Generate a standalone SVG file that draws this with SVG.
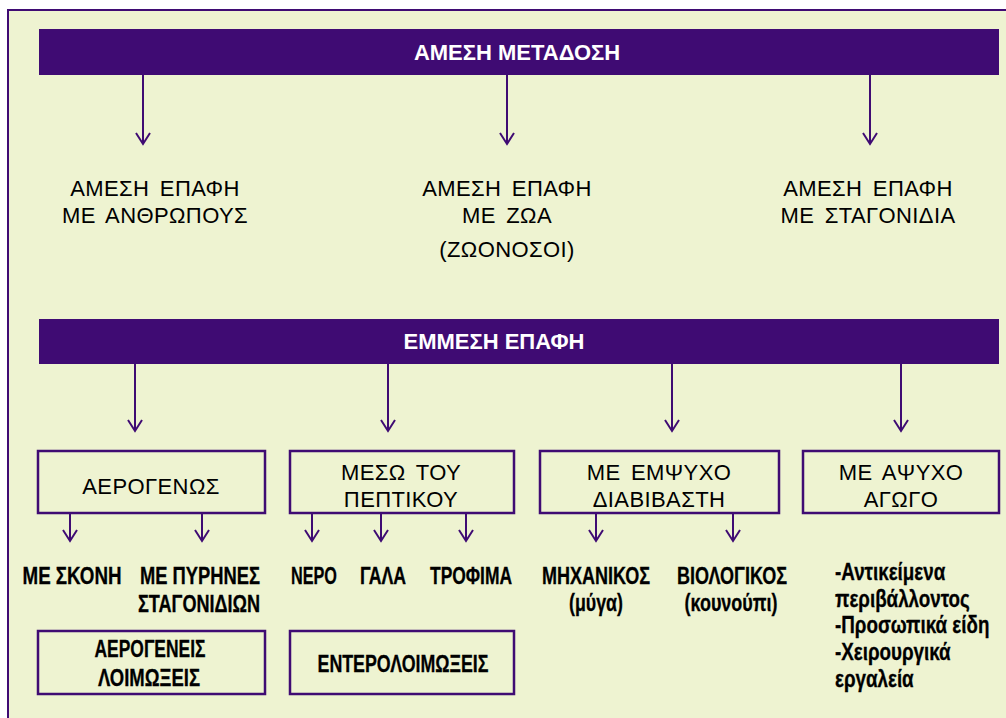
<svg xmlns="http://www.w3.org/2000/svg" width="1006" height="718" viewBox="0 0 1006 718">
<defs>
<style>
.frame{fill:#EEF3D1;stroke:#3F0B73;stroke-width:2}
.bar{fill:#3F0B73}
.box{fill:#EEF3D1;stroke:#3F0B73;stroke-width:2.5}
.bt{font-family:"Liberation Sans",Arial,sans-serif;font-weight:bold;font-size:22px;fill:#FFFFFF;text-anchor:middle}
.rt{font-family:"Liberation Sans",Arial,sans-serif;font-size:22px;fill:#000;text-anchor:middle;word-spacing:4px;letter-spacing:0.4px}
.nt{font-family:"Liberation Sans",Arial,sans-serif;font-weight:bold;font-size:23.5px;fill:#000;stroke:#000;stroke-width:0.3;text-anchor:middle}
.nl{font-family:"Liberation Sans",Arial,sans-serif;font-weight:bold;font-size:23.5px;fill:#000;stroke:#000;stroke-width:0.3}
.conn line{stroke:#3F0B73;stroke-width:2;fill:none}
</style>
<marker id="arr" markerUnits="userSpaceOnUse" markerWidth="16" markerHeight="18" viewBox="0 0 16 18" refX="12" refY="8" orient="auto">
<path d="M1,1 L12,8 L1,15" fill="none" stroke="#3F0B73" stroke-width="2"/>
</marker>
</defs>
<rect x="0" y="0" width="1006" height="718" fill="#FFFFFF"/>
<rect class="frame" x="8" y="10" width="1010" height="720"/>

<g id="amesi-metadosi">
<rect class="bar" x="39" y="29" width="960" height="46"/>
<text class="bt" x="517" y="60">ΑΜΕΣΗ ΜΕΤΑΔΟΣΗ</text>
</g>
<g id="epafi-anthropous">
<text class="rt" x="155" y="196">ΑΜΕΣΗ ΕΠΑΦΗ</text>
<text class="rt" x="155" y="223">ΜΕ ΑΝΘΡΩΠΟΥΣ</text>
</g>
<g id="epafi-zoa">
<text class="rt" x="507" y="196">ΑΜΕΣΗ ΕΠΑΦΗ</text>
<text class="rt" x="507" y="223">ΜΕ ΖΩΑ</text>
<text class="rt" x="507" y="257">(ΖΩΟΝΟΣΟΙ)</text>
</g>
<g id="epafi-stagonidia">
<text class="rt" x="868" y="196">ΑΜΕΣΗ ΕΠΑΦΗ</text>
<text class="rt" x="868" y="223">ΜΕ ΣΤΑΓΟΝΙΔΙΑ</text>
</g>

<g id="emmesi-epafi">
<rect class="bar" x="39" y="319" width="960" height="45"/>
<text class="bt" x="494" y="349">ΕΜΜΕΣΗ ΕΠΑΦΗ</text>
</g>
<g id="aerogenos">
<rect class="box" x="38" y="451" width="227" height="62"/>
<text class="rt" x="151" y="494">ΑΕΡΟΓΕΝΩΣ</text>
</g>
<g id="peptikou">
<rect class="box" x="290" y="451" width="224" height="62"/>
<text class="rt" x="401" y="480">ΜΕΣΩ ΤΟΥ</text>
<text class="rt" x="401" y="507">ΠΕΠΤΙΚΟΥ</text>
</g>
<g id="empsyxo">
<rect class="box" x="540" y="451" width="239" height="62"/>
<text class="rt" x="659" y="480">ΜΕ ΕΜΨΥΧΟ</text>
<text class="rt" x="659" y="507">ΔΙΑΒΙΒΑΣΤΗ</text>
</g>
<g id="apsyxo">
<rect class="box" x="803" y="451" width="196" height="62"/>
<text class="rt" x="901" y="480">ΜΕ ΑΨΥΧΟ</text>
<text class="rt" x="901" y="507">ΑΓΩΓΟ</text>
</g>

<g id="skoni"><text class="nt" x="72" y="584" textLength="99" lengthAdjust="spacingAndGlyphs">ΜΕ ΣΚΟΝΗ</text></g>
<g id="pyrines">
<text class="nt" x="200" y="584" textLength="120" lengthAdjust="spacingAndGlyphs">ΜΕ ΠΥΡΗΝΕΣ</text>
<text class="nt" x="199" y="612" textLength="122" lengthAdjust="spacingAndGlyphs">ΣΤΑΓΟΝΙΔΙΩΝ</text>
</g>
<g id="nero"><text class="nt" x="314" y="584" textLength="46" lengthAdjust="spacingAndGlyphs">ΝΕΡΟ</text></g>
<g id="gala"><text class="nt" x="383" y="584" textLength="46" lengthAdjust="spacingAndGlyphs">ΓΑΛΑ</text></g>
<g id="trofima"><text class="nt" x="471" y="584" textLength="82" lengthAdjust="spacingAndGlyphs">ΤΡΟΦΙΜΑ</text></g>
<g id="mixanikos">
<text class="nt" x="596" y="584" textLength="108" lengthAdjust="spacingAndGlyphs">ΜΗΧΑΝΙΚΟΣ</text>
<text class="nt" x="596" y="611" textLength="54" lengthAdjust="spacingAndGlyphs">(μύγα)</text>
</g>
<g id="viologikos">
<text class="nt" x="732" y="584" textLength="110" lengthAdjust="spacingAndGlyphs">ΒΙΟΛΟΓΙΚΟΣ</text>
<text class="nt" x="731" y="611" textLength="93" lengthAdjust="spacingAndGlyphs">(κουνούπι)</text>
</g>
<g id="antikeimena" transform="translate(835,0) scale(0.8,1)">
<text class="nl" x="0" y="580">-Αντικείμενα</text>
<text class="nl" x="0" y="607">περιβάλλοντος</text>
<text class="nl" x="0" y="633">-Προσωπικά είδη</text>
<text class="nl" x="0" y="660">-Χειρουργικά</text>
<text class="nl" x="0" y="687">εργαλεία</text>
</g>

<g id="aerogeneis-loimoxeis">
<rect class="box" x="38" y="631" width="227" height="63"/>
<text class="nt" x="150" y="657" textLength="111" lengthAdjust="spacingAndGlyphs">ΑΕΡΟΓΕΝΕΙΣ</text>
<text class="nt" x="149" y="686" textLength="102" lengthAdjust="spacingAndGlyphs">ΛΟΙΜΩΞΕΙΣ</text>
</g>
<g id="enteroloimoxeis">
<rect class="box" x="290" y="631" width="224" height="63"/>
<text class="nt" x="403" y="672" textLength="171" lengthAdjust="spacingAndGlyphs">ΕΝΤΕΡΟΛΟΙΜΩΞΕΙΣ</text>
</g>

<g id="connectors" class="conn">
<line x1="143" y1="75" x2="143" y2="144" marker-end="url(#arr)"/>
<line x1="507" y1="75" x2="507" y2="144" marker-end="url(#arr)"/>
<line x1="870" y1="75" x2="870" y2="144" marker-end="url(#arr)"/>
<line x1="135" y1="364" x2="135" y2="431" marker-end="url(#arr)"/>
<line x1="388" y1="364" x2="388" y2="431" marker-end="url(#arr)"/>
<line x1="672" y1="364" x2="672" y2="431" marker-end="url(#arr)"/>
<line x1="901" y1="364" x2="901" y2="431" marker-end="url(#arr)"/>
<line x1="70" y1="513" x2="70" y2="541" marker-end="url(#arr)"/>
<line x1="202" y1="513" x2="202" y2="541" marker-end="url(#arr)"/>
<line x1="312" y1="513" x2="312" y2="541" marker-end="url(#arr)"/>
<line x1="381" y1="513" x2="381" y2="541" marker-end="url(#arr)"/>
<line x1="466" y1="513" x2="466" y2="541" marker-end="url(#arr)"/>
<line x1="596" y1="513" x2="596" y2="541" marker-end="url(#arr)"/>
<line x1="733" y1="513" x2="733" y2="541" marker-end="url(#arr)"/>
</g>
</svg>
